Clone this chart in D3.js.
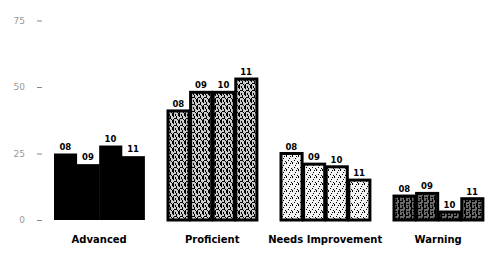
<!DOCTYPE html>
<html>
<head>
<meta charset="utf-8">
<script src="https://cdn.jsdelivr.net/npm/d3@7"></script>
<style>
  body { margin: 0; background: #fff; }
  svg { display: block; }
  .cat { font: bold 10px "DejaVu Sans", sans-serif; fill: #000; }
  .yr { font: bold 8.5px "DejaVu Sans", sans-serif; fill: #000; }
  .tick text { font: 9px "DejaVu Sans", sans-serif; fill: #999; }
</style>
</head>
<body>
<svg id="chart"></svg>
<script>
const categories = ["Advanced", "Proficient", "Needs Improvement", "Warning"];
const years = ["08", "09", "10", "11"];
// percent of students per level, one value per year
const advanced = [25, 21, 28, 24];
const proficient = [41, 48, 48, 53];
const needsImprovement = [25, 21, 20, 15];
const warning = [9, 10, 3, 8];
const yTicks = [0, 25, 50, 75];

const width = 488, height = 253;
const baseline = 220;

const svg = d3.select("#chart").attr("width", width).attr("height", height);

// fill textures (scanned look)
const defs = svg.append("defs");
function texture(id, bg, marks) {
  const p = defs.append("pattern").attr("id", id)
    .attr("patternUnits", "userSpaceOnUse").attr("width", 6).attr("height", 7);
  p.append("rect").attr("width", 6).attr("height", 7).attr("fill", bg);
  marks.forEach(m => p.append("rect").attr("x", m[0]).attr("y", m[1])
    .attr("width", m[2]).attr("height", m[3]).attr("fill", "#000"));
}
texture("pProf", "#ccc", [[0, 0, 1, 5], [2, 2, 1, 2], [3, 4, 1, 3], [5, 1, 1, 3], [1, 6, 2, 1], [4, 0, 1, 1]]);
texture("pNeeds", "#f2f2f2", [[0, 1, 1, 2], [3, 4, 1, 1], [5, 0, 1, 1], [2, 6, 1, 1], [4, 2, 1, 1]]);
texture("pWarn", "#6a6a6a", [[0, 0, 1, 7], [2, 1, 2, 1], [3, 3, 1, 3], [5, 0, 1, 4], [1, 5, 2, 1]]);
const fills = ["#000", "url(#pProf)", "url(#pNeeds)", "url(#pWarn)"];

const series = [advanced, proficient, needsImprovement, warning];

const x0 = d3.scaleBand().domain(categories).range([42.7, 494.7])
  .paddingInner(0.2).paddingOuter(0.1);
const x1 = d3.scaleBand().domain(years).range([0, x0.bandwidth()]);
const y = d3.scaleLinear().domain([0, 25]).range([baseline, baseline - 66.5]);

// y axis: labels and short dashes, no line
const yAxis = svg.append("g").attr("transform", "translate(42,0)")
  .call(d3.axisLeft(y).tickValues(yTicks).tickSize(5).tickPadding(12));
yAxis.select(".domain").remove();
yAxis.selectAll(".tick line").attr("stroke", "#888");

const groups = svg.selectAll(".grp").data(categories).enter().append("g")
  .attr("class", "grp")
  .attr("transform", d => "translate(" + x0(d) + ",0)");

groups.each(function (cat, ci) {
  const g = d3.select(this);
  const vals = series[ci].map((v, i) => ({ yr: years[i], v: v }));
  const solid = ci === 0;
  g.selectAll("rect").data(vals).enter().append("rect")
    .attr("x", d => x1(d.yr) + (solid ? 0 : 1))
    .attr("y", d => y(d.v))
    .attr("width", x1.bandwidth() - (solid ? -0.5 : 1.5))
    .attr("height", d => baseline - y(d.v))
    .attr("fill", fills[ci])
    .attr("stroke", solid ? "none" : "#000")
    .attr("stroke-width", 3);
  g.selectAll(".yr").data(vals).enter().append("text")
    .attr("class", "yr")
    .attr("x", d => x1(d.yr) + x1.bandwidth() / 2)
    .attr("y", d => y(d.v) - 4)
    .attr("text-anchor", "middle")
    .text(d => d.yr);
});

svg.selectAll(".cat").data(categories).enter().append("text")
  .attr("class", "cat")
  .attr("x", d => x0(d) + x0.bandwidth() / 2)
  .attr("y", 243)
  .attr("text-anchor", "middle")
  .text(d => d);
</script>
</body>
</html>
